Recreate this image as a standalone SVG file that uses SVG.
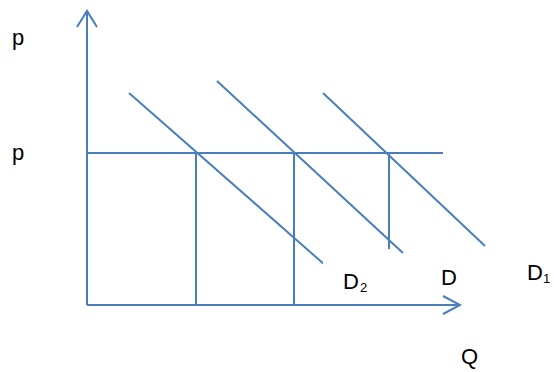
<svg xmlns="http://www.w3.org/2000/svg" width="554" height="372" viewBox="0 0 554 372">
<style>
.ln{stroke:#4A7EBB;stroke-width:2;fill:none;stroke-linecap:butt}
.t{font-family:"Liberation Sans",Arial,sans-serif;font-size:22px;fill:#000}
.s{font-family:"Liberation Sans",Arial,sans-serif;font-size:13px;fill:#000}
</style>
<rect width="554" height="372" fill="#fff"/>
<g id="connectors">
<line class="ln" x1="87" y1="305" x2="87" y2="11"/>
<polyline class="ln" points="77,27 87,11 97,27"/>
<line class="ln" x1="87" y1="305" x2="460" y2="305"/>
<polyline class="ln" points="443,296 460,305 443,314"/>
<line class="ln" x1="87" y1="153" x2="443" y2="153"/>
<line class="ln" x1="196" y1="153" x2="196" y2="305"/>
<line class="ln" x1="294" y1="153" x2="294" y2="305"/>
<line class="ln" x1="389" y1="153" x2="389" y2="249"/>
<line id="curve-D2" class="ln" x1="129" y1="93" x2="325" y2="265"/>
<line id="curve-D" class="ln" x1="217" y1="81" x2="403" y2="253"/>
<line id="curve-D1" class="ln" x1="323" y1="93" x2="485" y2="246"/>
</g>
<g id="label-D2">
<rect x="323" y="256" width="69" height="48" fill="#fff"/>
<text class="t" x="343" y="289">D</text><text class="s" x="360" y="292">2</text>
</g>
<g id="label-D"><text class="t" x="441" y="285">D</text></g>
<g id="label-D1"><text class="t" x="527" y="280">D</text><text class="s" x="543" y="283">1</text></g>
<g id="label-Q"><text class="t" x="461" y="364">Q</text></g>
<g id="label-p1"><text class="t" x="12" y="45">p</text></g>
<g id="label-p2"><text class="t" x="12" y="160">p</text></g>
</svg>
